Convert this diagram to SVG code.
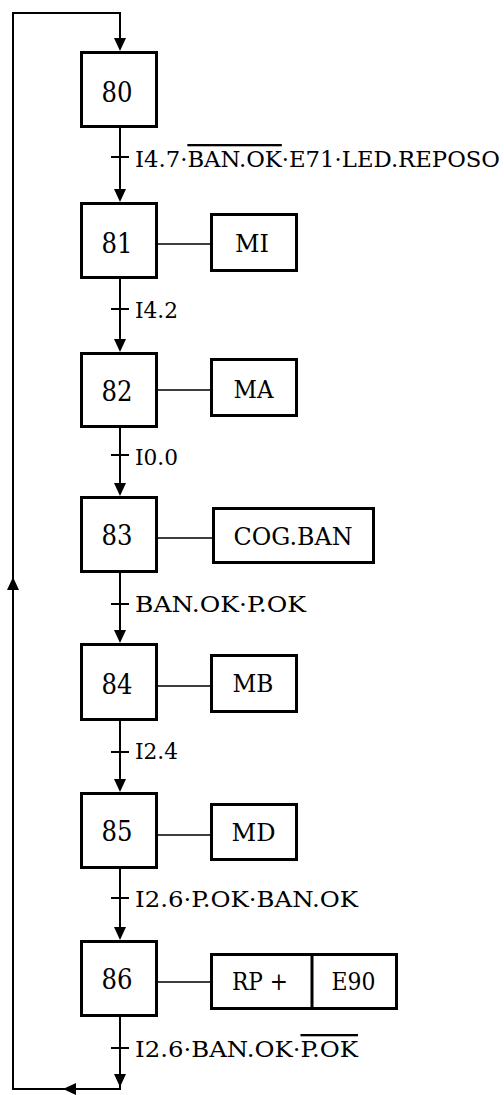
<svg xmlns="http://www.w3.org/2000/svg" xmlns:xlink="http://www.w3.org/1999/xlink" width="504" height="1095" viewBox="0 0 504 1095">
<style>
.step{fill:#fff;stroke:#000;stroke-width:3}
.act{fill:#fff;stroke:#000;stroke-width:3}
text{font-family:'DejaVu Serif',serif;fill:#000}
.num{font-size:27px;text-anchor:middle}
.lbl{font-size:23px}
.albl{font-size:23.5px;text-anchor:middle}
.ln{fill:none;stroke:#000;stroke-width:2}
.hc{fill:none;stroke:#000;stroke-width:1.6}
.ov{text-decoration:overline}
</style>
<defs>
<polygon id="ah" points="0,0 -6,-13 6,-13" fill="#000"/>
</defs>
<rect width="504" height="1095" fill="#fff"/>
<g id="connectors">
<path class="ln" d="M120,40 V13 H13 V1089 H120 V1016"/>
<path class="ln" d="M120,127 V200 M120,278 V350 M120,427 V494 M120,573 V641 M120,719 V790 M120,868 V938"/>
<path class="ln" d="M111,157 H129 M111,309 H129 M111,455 H129 M111,604 H129 M111,752 H129 M111,898 H129 M111,1048 H129"/>
<path class="hc" d="M158,244 H210 M158,390 H210 M158,538 H212 M158,686 H210 M158,835 H210 M158,982 H210"/>
<use xlink:href="#ah" transform="translate(120,51)"/>
<use xlink:href="#ah" transform="translate(120,202)"/>
<use xlink:href="#ah" transform="translate(120,352)"/>
<use xlink:href="#ah" transform="translate(120,496)"/>
<use xlink:href="#ah" transform="translate(120,643)"/>
<use xlink:href="#ah" transform="translate(120,792)"/>
<use xlink:href="#ah" transform="translate(120,940)"/>
<use xlink:href="#ah" transform="translate(120,1087)"/>
<use xlink:href="#ah" transform="translate(63,1089) rotate(90)"/>
<use xlink:href="#ah" transform="translate(13,577) rotate(180)"/>
<text class="lbl" x="135" y="167" textLength="365" lengthAdjust="spacingAndGlyphs">I4.7·<tspan class="ov">BAN.OK</tspan>·E71·LED.REPOSO</text>
<text class="lbl" x="135" y="318" textLength="43" lengthAdjust="spacingAndGlyphs">I4.2</text>
<text class="lbl" x="135" y="465" textLength="43" lengthAdjust="spacingAndGlyphs">I0.0</text>
<text class="lbl" x="135" y="612" textLength="171" lengthAdjust="spacingAndGlyphs">BAN.OK·P.OK</text>
<text class="lbl" x="135" y="759" textLength="43" lengthAdjust="spacingAndGlyphs">I2.4</text>
<text class="lbl" x="135" y="907" textLength="223" lengthAdjust="spacingAndGlyphs">I2.6·P.OK·BAN.OK</text>
<text class="lbl" x="135" y="1057" textLength="223" lengthAdjust="spacingAndGlyphs">I2.6·BAN.OK·<tspan class="ov">P.OK</tspan></text>
</g>
<g id="s80"><rect class="step" x="81.5" y="52.5" width="75" height="74"/><text class="num" x="117" y="102" textLength="31" lengthAdjust="spacingAndGlyphs">80</text></g>
<g id="s81"><rect class="step" x="81.5" y="203.5" width="75" height="74"/><text class="num" x="117" y="253" textLength="31" lengthAdjust="spacingAndGlyphs">81</text></g>
<g id="a81"><rect class="act" x="211.5" y="214.5" width="85" height="56"/><text class="albl" x="252" y="252" textLength="34" lengthAdjust="spacingAndGlyphs">MI</text></g>
<g id="s82"><rect class="step" x="81.5" y="353.5" width="75" height="73"/><text class="num" x="117" y="401" textLength="31" lengthAdjust="spacingAndGlyphs">82</text></g>
<g id="a82"><rect class="act" x="211.5" y="359.5" width="85" height="56"/><text class="albl" x="253.5" y="398" textLength="40" lengthAdjust="spacingAndGlyphs">MA</text></g>
<g id="s83"><rect class="step" x="81.5" y="497.5" width="75" height="74"/><text class="num" x="117" y="545" textLength="31" lengthAdjust="spacingAndGlyphs">83</text></g>
<g id="a83"><rect class="act" x="213.5" y="508.5" width="160" height="54"/><text class="albl" x="293" y="545" textLength="119" lengthAdjust="spacingAndGlyphs">COG.BAN</text></g>
<g id="s84"><rect class="step" x="81.5" y="644.5" width="75" height="75"/><text class="num" x="117" y="694" textLength="31" lengthAdjust="spacingAndGlyphs">84</text></g>
<g id="a84"><rect class="act" x="211.5" y="655.5" width="85" height="56"/><text class="albl" x="253" y="692" textLength="41" lengthAdjust="spacingAndGlyphs">MB</text></g>
<g id="s85"><rect class="step" x="81.5" y="793.5" width="75" height="74"/><text class="num" x="117" y="841" textLength="31" lengthAdjust="spacingAndGlyphs">85</text></g>
<g id="a85"><rect class="act" x="211.5" y="804.5" width="85" height="55"/><text class="albl" x="253.5" y="841" textLength="44" lengthAdjust="spacingAndGlyphs">MD</text></g>
<g id="s86"><rect class="step" x="81.5" y="941.5" width="75" height="74"/><text class="num" x="117" y="989" textLength="31" lengthAdjust="spacingAndGlyphs">86</text></g>
<g id="a86"><rect class="act" x="211.5" y="954.5" width="185" height="54"/><line x1="312" y1="954" x2="312" y2="1009" stroke="#000" stroke-width="3"/><text class="albl" x="260" y="990" textLength="56" lengthAdjust="spacingAndGlyphs">RP +</text><text class="albl" x="353.5" y="990" textLength="44" lengthAdjust="spacingAndGlyphs">E90</text></g>
</svg>
